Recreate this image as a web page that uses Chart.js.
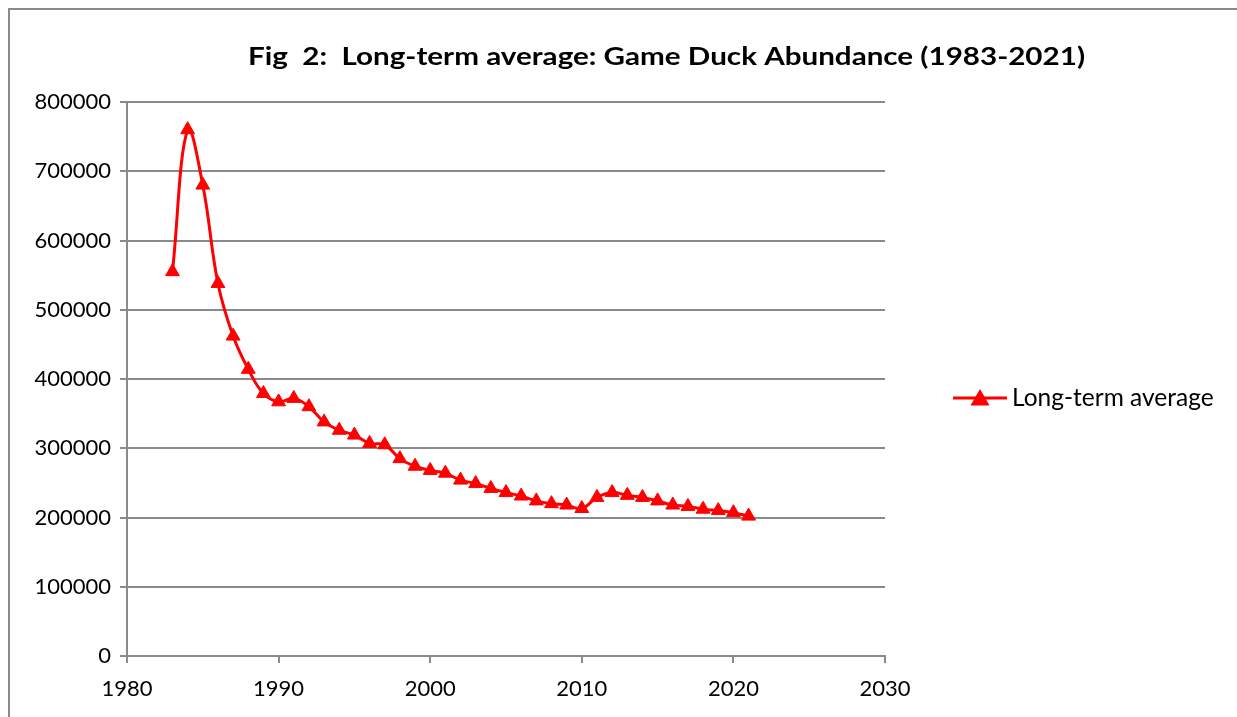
<!DOCTYPE html>
<html>
<head>
<meta charset="utf-8">
<script src="https://cdn.jsdelivr.net/npm/chart.js@4"></script>
<style>
  html, body { margin: 0; padding: 0; background: #fff; overflow: hidden; }
  #wrap { position: relative; width: 1237px; height: 717px; overflow: hidden; }
  #frame { position: absolute; left: 8px; top: 8px; width: 1320px; height: 760px; border: 2px solid #8a8a8a; box-sizing: border-box; }
  canvas { position: absolute; left: 0; top: 0; }
</style>
</head>
<body>
<div id="wrap">
  <div id="frame"></div>
  <canvas id="chart" width="1333" height="717"></canvas>
</div>
<script>
(function () {
  'use strict';

  var FONT = 'Lato, "Open Sans", sans-serif';
  var GRID = '#8a8a8a';

  var years = [
    1983, 1984, 1985, 1986, 1987, 1988, 1989, 1990, 1991, 1992,
    1993, 1994, 1995, 1996, 1997, 1998, 1999, 2000, 2001, 2002,
    2003, 2004, 2005, 2006, 2007, 2008, 2009, 2010, 2011, 2012,
    2013, 2014, 2015, 2016, 2017, 2018, 2019, 2020, 2021
  ];
  var longTermAverage = [
    555000, 760000, 680000, 538000, 462000, 414000, 379000, 367000, 372000, 360000,
    338000, 326000, 319000, 307000, 305000, 285000, 274000, 268000, 264000, 254000,
    249000, 242000, 236000, 231000, 224000, 220000, 218000, 213000, 229000, 236000,
    232000, 229000, 224000, 218000, 216000, 212000, 210000, 207000, 202000
  ];
  var xTicks = [1980, 1990, 2000, 2010, 2020, 2030];
  var yTicks = [0, 100000, 200000, 300000, 400000, 500000, 600000, 700000, 800000];
  var seriesName = 'Long-term average';
  var chartTitle = 'Fig  2:  Long-term average: Game Duck Abundance (1983-2021)';

  var points = years.map(function (y, i) {
    return { x: y, y: longTermAverage[i] };
  });

  // bold title, stretched to the width the heading box uses
  var wideTitle = {
    id: 'wideTitle',
    afterDraw: function (chart, args, opts) {
      var ctx = chart.ctx;
      ctx.save();
      ctx.font = 'bold ' + opts.size + 'px ' + FONT;
      var w = ctx.measureText(opts.text).width;
      var sx = opts.width / w;
      ctx.translate(chart.width / 2, opts.y);
      ctx.scale(sx, 1);
      ctx.fillStyle = '#000';
      ctx.textAlign = 'center';
      ctx.textBaseline = 'middle';
      ctx.fillText(opts.text, 0, 0);
      ctx.restore();
    }
  };

  // legend: short line with the triangle marker, right of the plot
  var sideLegend = {
    id: 'sideLegend',
    afterDraw: function (chart) {
      var ctx = chart.ctx;
      var ds = chart.data.datasets[0];
      var area = chart.chartArea;
      var x0 = area.right + 68;
      var cy = 398;
      ctx.save();
      ctx.strokeStyle = ds.borderColor;
      ctx.fillStyle = ds.pointBackgroundColor;
      ctx.lineWidth = ds.borderWidth;
      ctx.beginPath();
      ctx.moveTo(x0, cy);
      ctx.lineTo(x0 + 54, cy);
      ctx.stroke();
      ctx.strokeStyle = ds.pointBorderColor;
      Chart.helpers.drawPoint(ctx, {
        pointStyle: 'triangle',
        radius: ds.pointRadius,
        borderWidth: ds.pointBorderWidth
      }, x0 + 27, cy + 2);
      ctx.fillStyle = '#000';
      ctx.font = '24.5px ' + FONT;
      ctx.textBaseline = 'middle';
      ctx.textAlign = 'left';
      ctx.fillText(ds.label, x0 + 59, cy);
      ctx.restore();
    }
  };

  new Chart(document.getElementById('chart'), {
    type: 'line',
    data: {
      datasets: [{
        label: seriesName,
        data: points,
        borderColor: '#ff0000',
        backgroundColor: '#ff0000',
        borderWidth: 3,
        tension: 0.4,
        pointStyle: 'triangle',
        pointRadius: 8,
        pointHoverRadius: 8,
        pointBackgroundColor: '#ff0000',
        pointBorderColor: '#ff0000',
        pointBorderWidth: 1
      }]
    },
    plugins: [wideTitle, sideLegend],
    options: {
      responsive: false,
      animation: false,
      events: [],
      layout: { padding: { left: 10, right: 0, top: 102, bottom: 0 } },
      scales: {
        x: {
          type: 'linear',
          min: xTicks[0],
          max: xTicks[xTicks.length - 1],
          afterFit: function (scale) { scale.height = 61; },
          afterBuildTicks: function (scale) {
            scale.ticks = xTicks.map(function (v) { return { value: v }; });
          },
          ticks: {
            color: '#000',
            padding: 13,
            maxRotation: 0,
            font: { family: FONT, size: 22 },
            callback: function (v) { return String(v); }
          },
          grid: {
            display: true,
            drawOnChartArea: false,
            drawTicks: true,
            tickLength: 7,
            color: GRID,
            lineWidth: 2
          },
          border: { display: true, color: GRID, width: 2 }
        },
        y: {
          min: yTicks[0],
          max: yTicks[yTicks.length - 1],
          afterFit: function (scale) { scale.width = 117; },
          afterBuildTicks: function (scale) {
            scale.ticks = yTicks.map(function (v) { return { value: v }; });
          },
          ticks: {
            color: '#000',
            padding: 9,
            font: { family: FONT, size: 22 },
            callback: function (v) { return String(v); }
          },
          grid: {
            color: GRID,
            lineWidth: 2,
            tickLength: 7
          },
          border: { display: true, color: GRID, width: 2 }
        },
        spacer: {
          position: 'right',
          display: true,
          afterFit: function (scale) { scale.width = 448; },
          ticks: { display: false },
          grid: { display: false, drawTicks: false },
          border: { display: false }
        }
      },
      plugins: {
        legend: { display: false },
        tooltip: { enabled: false },
        title: { display: false },
        wideTitle: { text: chartTitle, size: 24, width: 837, y: 57 }
      }
    }
  });
})();
</script>
</body>
</html>
